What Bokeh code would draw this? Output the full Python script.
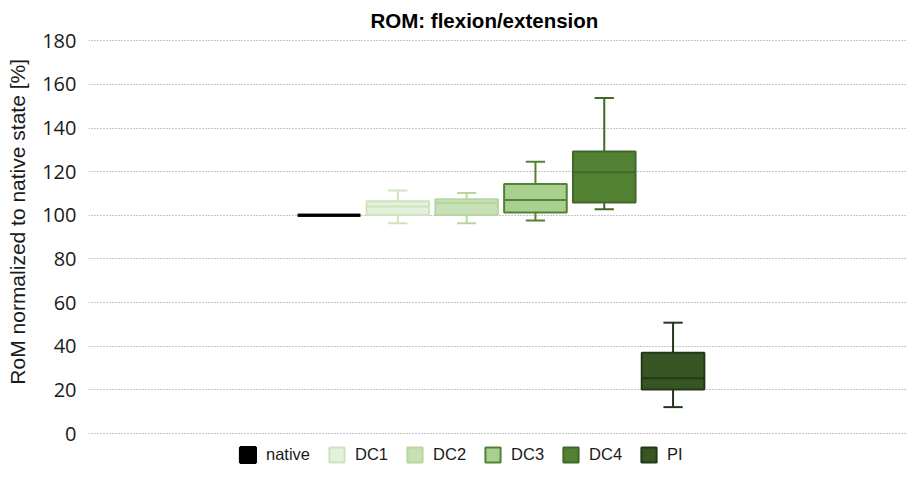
from bokeh.plotting import figure
from bokeh.models import ColumnDataSource, Range1d, FixedTicker, Legend, LegendItem, Title
from bokeh.embed import file_html
from bokeh.resources import INLINE

# ---- data ----
groups = ["native", "DC1", "DC2", "DC3", "DC4", "PI"]
lower = [100.0, 96.4, 96.4, 97.6, 102.8, 12.1]
q1 = [100.0, 100.2, 100.2, 101.3, 105.9, 20.2]
median = [100.0, 104.1, 105.7, 107.0, 119.7, 25.3]
q3 = [100.0, 106.5, 107.4, 114.3, 129.2, 37.0]
upper = [100.0, 111.4, 110.2, 124.6, 153.8, 50.8]
y_ticks = [0, 20, 40, 60, 80, 100, 120, 140, 160, 180]
y_label = "RoM normalized to native state [%]"

fill_colors = ["#000000", "#e3f0db", "#c7e0b5", "#a9d08e", "#548235", "#375623"]
line_colors = ["#000000", "#cde4be", "#b7d7a2", "#548235", "#416829", "#23381a"]
line_widths = [3, 2, 2, 2, 2, 2]

box_w = 0.91
cap_w = 0.28

p = figure(width=906, height=464, output_backend="svg", toolbar_location=None,
           x_axis_location=None,
           x_range=Range1d(-3.496, 8.393), y_range=Range1d(-14.2, 181.5),
           min_border_left=88, min_border_right=0, min_border_top=35, min_border_bottom=0)
p.outline_line_color = None
p.background_fill_color = "white"
p.border_fill_color = "white"

t = Title(text="ROM: flexion/extension", align="left", offset=282,
          text_font="Liberation Sans", text_font_size="20.5px", text_font_style="bold",
          text_color="#000000", standoff=12)
p.title = t

p.xgrid.grid_line_color = None
p.ygrid.grid_line_color = "#8c8c8c"
p.ygrid.grid_line_dash = "1 2"
p.ygrid.grid_line_width = 1.2

ya = p.yaxis[0]
ya.ticker = FixedTicker(ticks=y_ticks)
ya.axis_line_color = None
ya.major_tick_line_color = None
ya.minor_tick_line_color = None
ya.major_tick_out = 0
ya.major_tick_in = 0
ya.minor_tick_out = 0
ya.minor_tick_in = 0
ya.major_label_text_font = "Open Sans"
ya.major_label_text_font_size = "20px"
ya.major_label_text_color = "#1a1a1a"
ya.major_label_standoff = 12
# leading no-break spaces shift the rotated label upward (as in the reference)
ya.axis_label = "\u00a0" * 10 + y_label
ya.axis_label_text_font = "Liberation Sans"
ya.axis_label_text_font_size = "21px"
ya.axis_label_text_font_style = "normal"
ya.axis_label_text_color = "#1a1a1a"
ya.axis_label_standoff = 10

items = []
for i, g in enumerate(groups):
    src = ColumnDataSource(dict(
        x=[i], lower=[lower[i]], q1=[q1[i]], med=[median[i]], q3=[q3[i]], upper=[upper[i]],
        x0=[i - box_w / 2], x1=[i + box_w / 2], c0=[i - cap_w / 2], c1=[i + cap_w / 2],
    ))
    lc = line_colors[i]
    if g != "native":
        p.segment(x0="x", y0="q3", x1="x", y1="upper", source=src, line_color=lc, line_width=2)
        p.segment(x0="x", y0="q1", x1="x", y1="lower", source=src, line_color=lc, line_width=2)
        p.segment(x0="c0", y0="upper", x1="c1", y1="upper", source=src, line_color=lc, line_width=2)
        p.segment(x0="c0", y0="lower", x1="c1", y1="lower", source=src, line_color=lc, line_width=2)
    r = p.vbar(x="x", width=box_w, bottom="q1", top="q3", source=src,
               fill_color=fill_colors[i], line_color=lc, line_width=line_widths[i])
    p.segment(x0="x0", y0="med", x1="x1", y1="med", source=src, line_color=lc,
              line_width=line_widths[i])
    items.append(LegendItem(label=g, renderers=[r]))

legend = Legend(items=items, orientation="horizontal", location=(150, 0),
                glyph_width=19, glyph_height=19, label_standoff=9, spacing=17,
                padding=1, margin=0, border_line_color=None, background_fill_alpha=0,
                label_text_font="Liberation Sans", label_text_font_size="16.5px",
                label_text_color="#1a1a1a")
p.add_layout(legend, "center")

open("out.html", "w").write(file_html(p, INLINE))
